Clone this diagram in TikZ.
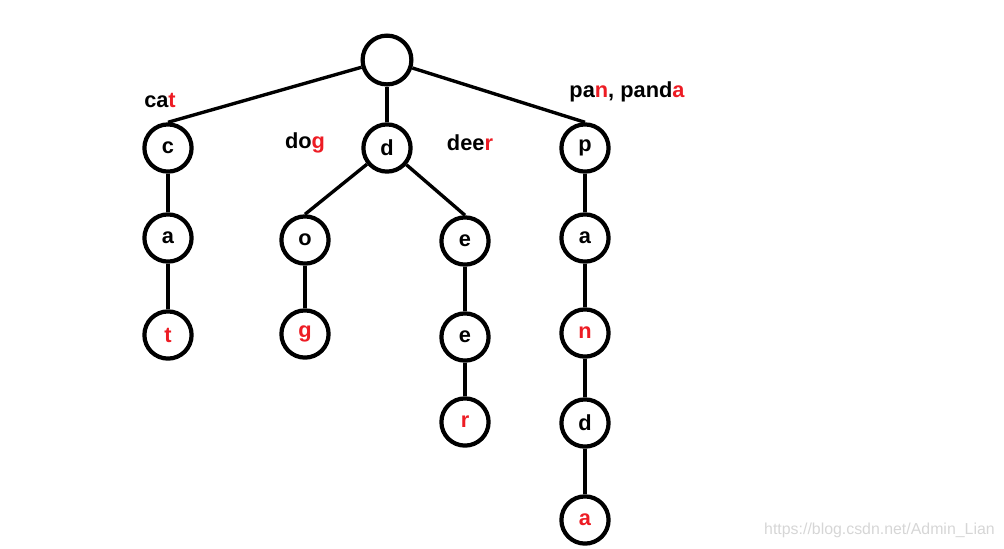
\documentclass[tikz,border=0pt]{standalone}
\usepackage{fontspec}
\setmainfont{Liberation Sans}
\usetikzlibrary{positioning}
\definecolor{endred}{RGB}{237,28,36}
\definecolor{markgray}{RGB}{214,214,214}

\begin{document}
\begin{tikzpicture}[
  on grid,
  vert/.style={draw, circle, line width=3pt, minimum size=1.18cm, inner sep=0pt,
    font=\fontsize{15.5}{18}\selectfont\bfseries},
  last/.style={vert, text=endred},
  edge/.style={line width=2.4pt},
  word/.style={font=\fontsize{15.5}{18}\selectfont\bfseries, inner sep=0pt}
]
\useasboundingbox (0,0) rectangle (25.1,-13.7);

\node[vert, minimum size=1.22cm] (root) at (9.675,-1.5) {};

% first level
\node[vert, below left=2.2cm and 5.475cm of root] (c) {c};
\node[vert, below=2.2cm of root] (d) {d};
\node[vert, below right=2.2cm and 4.95cm of root] (p) {p};

% cat
\node[vert, below=2.25cm of c] (ca) {a};
\node[last, below=2.425cm of ca] (ct) {t};

% dog
\node[vert, below left=2.3cm and 2.05cm of d] (do) {o};
\node[last, below=2.35cm of do] (dg) {g};

% deer
\node[vert, below right=2.325cm and 1.95cm of d] (de) {e};
\node[vert, below=2.4cm of de] (dee) {e};
\node[last, below=2.125cm of dee] (dr) {r};

% pan, panda
\node[vert, below=2.25cm of p] (pa) {a};
\node[last, below=2.375cm of pa] (pn) {n};
\node[vert, below=2.25cm of pn] (pd) {d};
\node[last, below=2.425cm of pd] (pda) {a};

\draw[edge] (root) -- (c.north);
\draw[edge] (root) -- (d);
\draw[edge] (root) -- (p.north);
\draw[edge] (c) -- (ca);
\draw[edge] (ca) -- (ct);
\draw[edge] (d) -- (do.north);
\draw[edge] (do) -- (dg);
\draw[edge] (d) -- (de.north);
\draw[edge] (de) -- (dee);
\draw[edge] (dee) -- (dr);
\draw[edge] (p) -- (pa);
\draw[edge] (pa) -- (pn);
\draw[edge] (pn) -- (pd);
\draw[edge] (pd) -- (pda);

\node[word, above left=1.2cm and 0.2cm of c] (catw) {ca\textcolor{endred}{t}};
\node[word, above left=0.12cm and 2.05cm of d] (dogw) {do\textcolor{endred}{g}};
\node[word, above right=0.12cm and 2.075cm of d] (deerw) {dee\textcolor{endred}{r}};
\node[word, above right=1.4cm and 1.05cm of p] (panw) {pa\textcolor{endred}{n}, pand\textcolor{endred}{a}};

\node[anchor=east, text=markgray, font=\fontsize{11.3}{13}\selectfont, inner sep=0pt]
  (mark) at (24.875,-13.25) {https://blog.csdn.net/Admin\_Lian};
\end{tikzpicture}
\end{document}
